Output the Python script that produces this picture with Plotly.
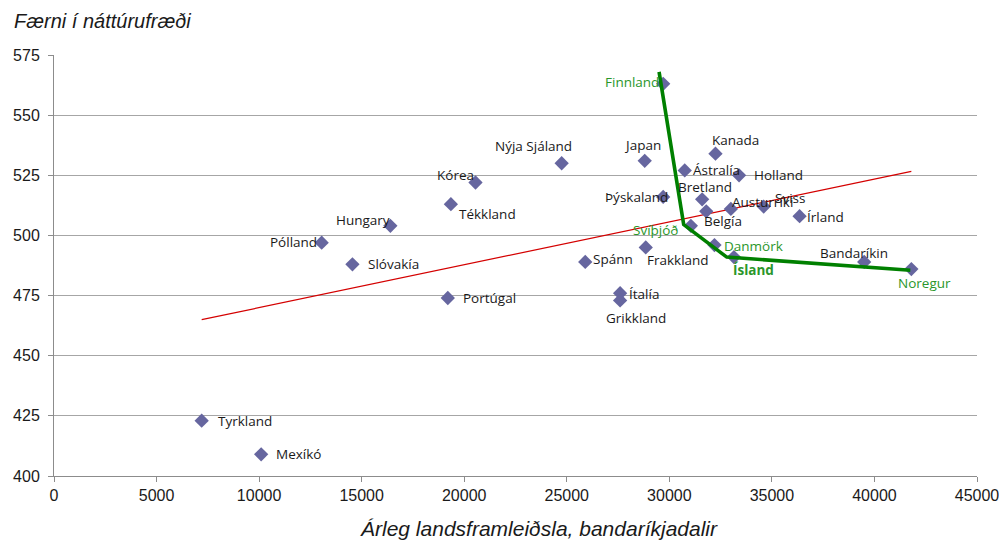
import numpy as np
import plotly.graph_objects as go

# Countries: GDP per capita (USD) and science score
countries = ["Finnland", "Japan", "Kanada", "Ástralía", "Holland", "Þýskaland",
             "Bretland", "Austurríki", "Sviss", "Belgía", "Írland", "Svíþjóð",
             "Danmörk", "Ísland", "Frakkland", "Spánn", "Ítalía", "Grikkland",
             "Bandaríkin", "Noregur", "Nýja Sjáland", "Kórea", "Tékkland",
             "Hungary", "Pólland", "Slóvakía", "Portúgal", "Tyrkland", "Mexíkó"]
gdp = [29700, 28800, 32250, 30750, 33400, 29700,
       31600, 33000, 34600, 31800, 36350, 31050,
       32200, 33150, 28850, 25900, 27600, 27600,
       39500, 41800, 24750, 20550, 19350,
       16400, 13050, 14550, 19200, 7200, 10100]
science = [563, 531, 534, 527, 525, 516,
           515, 511, 512, 510, 508, 504,
           496, 491, 495, 489, 476, 473,
           489, 486, 530, 522, 513,
           504, 497, 488, 474, 423, 409]

# Nordic frontier line
frontier_gdp = [29500, 30700, 32800, 41750]
frontier_sci = [568, 504.5, 491, 485.5]

x_ticks = list(range(0, 45001, 5000))
x_tick_text = [str(v) for v in x_ticks]
y_ticks = list(range(400, 576, 25))

title_text = "Færni í náttúrufræði"
xaxis_text = "Árleg landsframleiðsla, bandaríkjadalir"

# label offsets in pixels (dx right, dy up) and styling per label
label_offsets = {
    "Finnland": (-31, 2), "Japan": (-2, 16), "Kanada": (20, 14),
    "Ástralía": (32, 0), "Holland": (39, 0), "Þýskaland": (-27, 0),
    "Bretland": (3, 12), "Austurríki": (32, 7), "Sviss": (26, 9),
    "Belgía": (17, -10), "Írland": (26, -1), "Svíþjóð": (-35, -4),
    "Danmörk": (39, -1), "Ísland": (20, -13), "Frakkland": (32, -13),
    "Spánn": (28, 3), "Ítalía": (24, -1), "Grikkland": (16, -18),
    "Bandaríkin": (-10, 9), "Noregur": (13, -14), "Nýja Sjáland": (-28, 17),
    "Kórea": (-20, 8), "Tékkland": (37, -10), "Hungary": (-27, 6),
    "Pólland": (-28, 1), "Slóvakía": (41, 0), "Portúgal": (42, 0),
    "Tyrkland": (43, 0), "Mexíkó": (37, 0),
}
green_labels = {"Finnland", "Svíþjóð", "Danmörk", "Noregur", "Ísland"}
bold_labels = {"Ísland"}

label_font = "Open Sans, Noto Sans, sans-serif"
narrow_font = "Liberation Sans Narrow, Arial Narrow, Liberation Sans, sans-serif"

fig = go.Figure()

# linear trend line fitted to all countries
slope, intercept = np.polyfit(gdp, science, 1)
tx = np.array([min(gdp), max(gdp)])
fig.add_trace(go.Scatter(x=tx, y=slope * tx + intercept, mode="lines",
                         line=dict(color="#d40000", width=1.2),
                         hoverinfo="skip", showlegend=False))

fig.add_trace(go.Scatter(x=gdp, y=science, mode="markers",
                         marker=dict(symbol="diamond", size=11, color="#66669f"),
                         text=countries, hoverinfo="text+x+y", showlegend=False))

fig.add_trace(go.Scatter(x=frontier_gdp, y=frontier_sci, mode="lines",
                         line=dict(color="#008000", width=3.6),
                         hoverinfo="skip", showlegend=False))

for name, xv, yv in zip(countries, gdp, science):
    dx, dy = label_offsets[name]
    txt = f"<b>{name}</b>" if name in bold_labels else name
    fig.add_annotation(x=xv, y=yv, text=txt, showarrow=False,
                       xshift=dx, yshift=dy, xanchor="center", yanchor="middle",
                       font=dict(family=label_font, size=13.5,
                                 color="#2a962a" if name in green_labels else "#1a1a1a"))

fig.add_annotation(xref="paper", yref="paper", x=-0.046, y=1.0, yshift=34,
                   text=f"<i>{title_text}</i>", showarrow=False,
                   xanchor="left", yanchor="middle",
                   font=dict(family=narrow_font, size=20, color="#1a1a1a"))
fig.add_annotation(xref="paper", yref="paper", x=0.525, y=0, yshift=-52,
                   text=f"<i>{xaxis_text}</i>", showarrow=False,
                   xanchor="center", yanchor="middle",
                   font=dict(family=narrow_font, size=21, color="#1a1a1a"))

fig.update_layout(
    width=999, height=542,
    margin=dict(l=54, r=22, t=55, b=66),
    paper_bgcolor="white", plot_bgcolor="white",
    xaxis=dict(range=[0, 45000], tickvals=x_ticks, ticktext=x_tick_text,
               ticks="outside", ticklen=5, ticklabeloverflow="allow", automargin=False,
               tickcolor="#8c8c8c", showline=True, linecolor="#8c8c8c", linewidth=1,
               showgrid=False, zeroline=False,
               tickfont=dict(family=narrow_font, size=16, color="#1a1a1a")),
    yaxis=dict(range=[400, 575], tickvals=y_ticks, ticks="outside", ticklen=5,
               tickcolor="#8c8c8c", showline=True, linecolor="#8c8c8c", linewidth=1,
               showgrid=True, gridcolor="#a6a6a6", gridwidth=1, zeroline=False,
               ticklabelstandoff=5, ticklabeloverflow="allow", automargin=False,
               tickfont=dict(family=narrow_font, size=16, color="#1a1a1a")),
)

fig.write_html("out.html")
